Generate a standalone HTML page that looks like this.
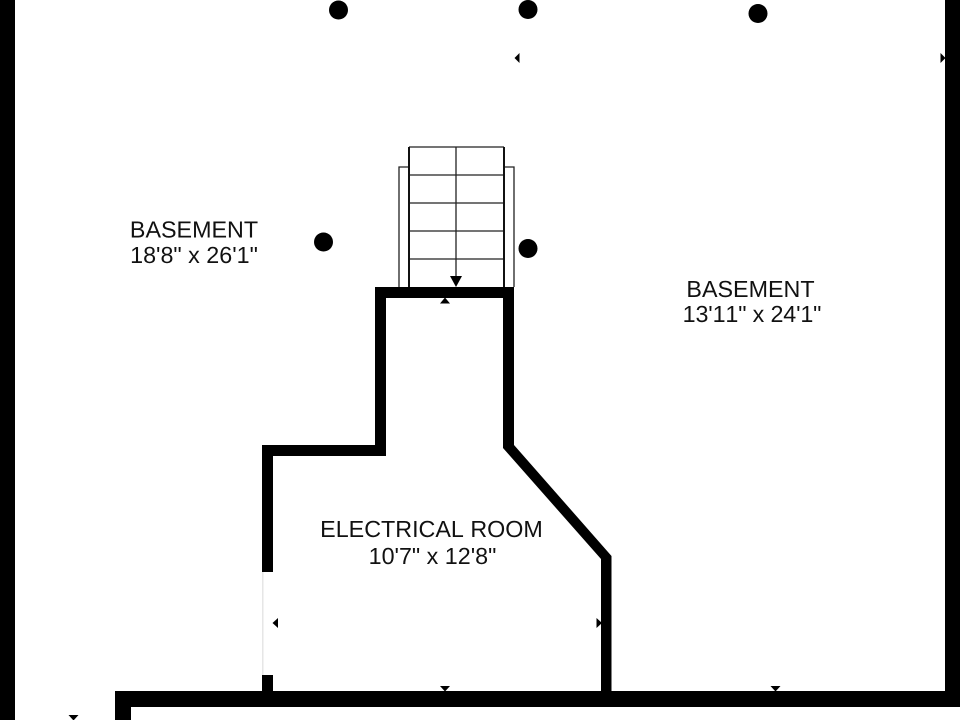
<!DOCTYPE html>
<html><head><meta charset="utf-8"><style>
html,body{margin:0;padding:0;background:#fff;width:960px;height:720px;overflow:hidden}
svg{display:block}
text{font-family:"Liberation Sans",Arial,sans-serif;font-size:23.300px;fill:#111;text-anchor:middle;font-kerning:none;text-rendering:geometricPrecision}
</style></head><body>
<svg width="960" height="720" viewBox="0 0 960 720" xmlns="http://www.w3.org/2000/svg">
<rect width="960" height="720" fill="#fff"/>
<rect x="0" y="0" width="15" height="720"/>
<rect x="945" y="0" width="15" height="707"/>
<rect x="115" y="691" width="845" height="16"/>
<rect x="115" y="691" width="16" height="29"/>
<rect x="262" y="572" width="1.500" height="103" fill="#e6e6e6"/>
<path d="M262 572V445H375V287H514V445L611.500 556V691H601V559L503 448V298H386V456H273V572Z"/>
<rect x="262" y="675" width="11" height="16"/>
<g fill="none" stroke="#222" stroke-width="1.300">
<path d="M409 147H504"/>
<path d="M409 175H504M409 203H504M409 231H504M409 259H504"/>
<path d="M456 147V276"/>
<path d="M409 167H399V287M504 167H514V287"/>
</g>
<path d="M409 147V287M504 147V287" fill="none" stroke="#111" stroke-width="2"/>
<path d="M450 276H462L456 287Z"/>
<circle cx="338.500" cy="10" r="9.500"/>
<circle cx="528" cy="9.500" r="9.500"/>
<circle cx="758" cy="13.500" r="9.500"/>
<circle cx="323.500" cy="242" r="9.500"/>
<circle cx="528" cy="248.500" r="9.500"/>
<path d="M514.500 58L519.500 53V63Z"/>
<path d="M945.500 58L940.500 53V63Z"/>
<path d="M445 297.500L440 303.500H450Z"/>
<path d="M272.500 623L278 618V628Z"/>
<path d="M602 623L596.500 618V628Z"/>
<path d="M445 691.500L440 686H450Z"/>
<path d="M775.500 691.500L770.500 686H780.500Z"/>
<path d="M73.500 720.500L68.500 715H78.500Z"/>
<text x="194" y="237.500">BASEMENT</text>
<text x="194" y="263">18'8" x 26'1"</text>
<text x="750.500" y="297">BASEMENT</text>
<text x="752" y="322" style="letter-spacing:-0.150px">13'11" x 24'1"</text>
<text x="431.500" y="537">ELECTRICAL ROOM</text>
<text x="432.500" y="564">10'7" x 12'8"</text>
</svg>
</body></html>
